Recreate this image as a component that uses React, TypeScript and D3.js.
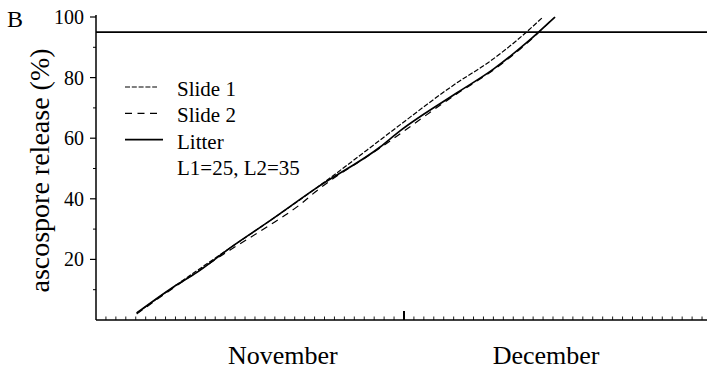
import React from "react";
import * as d3 from "d3";

// Days counted from 31 October (1 = 1 Nov, 31 = 1 Dec)
const litterDays = [4.1, 7.8, 10.2, 13.5, 17.3, 22.2, 28.6, 30.6, 36.3, 40.0, 43.4, 46.2];
const litterVals = [2.3, 10.9, 15.8, 23.8, 32.3, 43.6, 57.1, 62.4, 74.9, 82.8, 91.7, 100];

const slide1Days = [4.1, 7.8, 13.5, 17.3, 22.2, 28.6, 30.6, 36.3, 39.5, 42.4, 45.0];
const slide1Vals = [2.3, 10.9, 23.8, 32.3, 43.6, 59.4, 64.4, 78.2, 85.0, 92.4, 100];

const slide2Days = [4.1, 7.8, 13.5, 17.3, 20.5, 22.2, 28.6, 36.3, 40.0, 43.4, 46.0];
const slide2Vals = [2.0, 10.6, 23.1, 30.9, 38.0, 42.6, 56.8, 74.6, 82.5, 91.4, 99.5];

const thresholdValue = 95;

const yTickValues = [20, 40, 60, 80, 100];
const yMinorTicks = [10, 30, 50, 70, 90];
const monthLabels = ["November", "December"];
const monthLabelDays = [18.8, 45.3];
const monthStartDay = 31;

const legendLabels = ["Slide 1", "Slide 2", "Litter"];
const legendDash = ["5,1.8", "7,5.5", "none"];
const legendWidth = [1.2, 1.2, 1.6];
const noteText = "L1=25, L2=35";

const W = 707;
const H = 369;
const FONT = "Liberation Serif, Times New Roman, Times, serif";

export default function App() {
  const x = d3.scaleLinear().domain([0, 61.5]).range([96, 707]);
  const y = d3.scaleLinear().domain([0, 100]).range([320, 17]);

  const line = d3
    .line<[number, number]>()
    .x((d) => x(d[0]))
    .y((d) => y(d[1]))
    .curve(d3.curveMonotoneX);

  const toPts = (ds: number[], vs: number[]) =>
    ds.map((d, i) => [d, vs[i]] as [number, number]);

  const series = [
    { pts: toPts(slide1Days, slide1Vals), dash: legendDash[0], w: 1.2 },
    { pts: toPts(slide2Days, slide2Vals), dash: legendDash[1], w: 1.2 },
    { pts: toPts(litterDays, litterVals), dash: "none", w: 1.7 },
  ];

  const dayTicks = d3.range(1, 62).filter((d) => d !== monthStartDay);
  const x0 = x(0);
  const axisY = y(0);
  const txt = { fontFamily: FONT };

  return (
    <svg
      width={W}
      height={H}
      style={{ position: "absolute", left: 0, top: 0, background: "#fff", fontFamily: FONT }}
    >
      <rect width={W} height={H} fill="#fff" />
      <text x={7} y={27} fontSize={24} fill="#000" style={txt}>
        B
      </text>

      {/* y axis */}
      <line x1={x0} x2={x0} y1={15} y2={axisY} stroke="#000" strokeWidth={1.5} />
      {yTickValues.map((v) => (
        <g key={"yt" + v}>
          <line x1={x0 - 6} x2={x0} y1={y(v)} y2={y(v)} stroke="#000" strokeWidth={1.2} />
          <text
            x={84}
            y={y(v)}
            dy="0.35em"
            textAnchor="end"
            fontSize={20}
            fill="#000"
            style={txt}
          >
            {v}
          </text>
        </g>
      ))}
      {yMinorTicks.map((v) => (
        <line key={"ym" + v} x1={x0 - 3} x2={x0} y1={y(v)} y2={y(v)} stroke="#000" strokeWidth={1} />
      ))}
      <text
        transform={`translate(49, ${y(50) + 2}) rotate(-90)`}
        textAnchor="middle"
        fontSize={28}
        fill="#000"
        style={txt}
      >
        ascospore release (%)
      </text>

      {/* x axis */}
      <line x1={x0} x2={W} y1={axisY} y2={axisY} stroke="#000" strokeWidth={1.6} />
      {dayTicks.map((d) => (
        <line key={"xt" + d} x1={x(d)} x2={x(d)} y1={axisY - 3.5} y2={axisY} stroke="#000" strokeWidth={0.9} />
      ))}
      <line
        x1={x(monthStartDay)}
        x2={x(monthStartDay)}
        y1={axisY - 9}
        y2={axisY}
        stroke="#000"
        strokeWidth={2}
      />
      {monthLabels.map((m, i) => (
        <text
          key={m}
          x={x(monthLabelDays[i])}
          y={364}
          textAnchor="middle"
          fontSize={26}
          fill="#000"
          style={txt}
        >
          {m}
        </text>
      ))}

      {/* threshold */}
      <line x1={x0} x2={W} y1={y(thresholdValue)} y2={y(thresholdValue)} stroke="#000" strokeWidth={1.6} />

      {/* curves */}
      {series.map((s, i) => (
        <path
          key={"s" + i}
          d={line(s.pts) || ""}
          fill="none"
          stroke="#000"
          strokeWidth={s.w}
          strokeDasharray={s.dash}
        />
      ))}

      {/* legend */}
      {legendLabels.map((lab, i) => {
        const by = 96 + i * 26.3;
        return (
          <g key={lab}>
            <line
              x1={125}
              x2={i === 2 ? 163 : 157}
              y1={by - 9}
              y2={by - 9}
              stroke="#000"
              strokeWidth={legendWidth[i]}
              strokeDasharray={legendDash[i]}
            />
            <text x={177} y={by} fontSize={21} fill="#000" style={txt}>
              {lab}
            </text>
          </g>
        );
      })}
      <text x={177} y={96 + 3 * 26.3} fontSize={21} fill="#000" style={txt}>
        {noteText}
      </text>
    </svg>
  );
}
